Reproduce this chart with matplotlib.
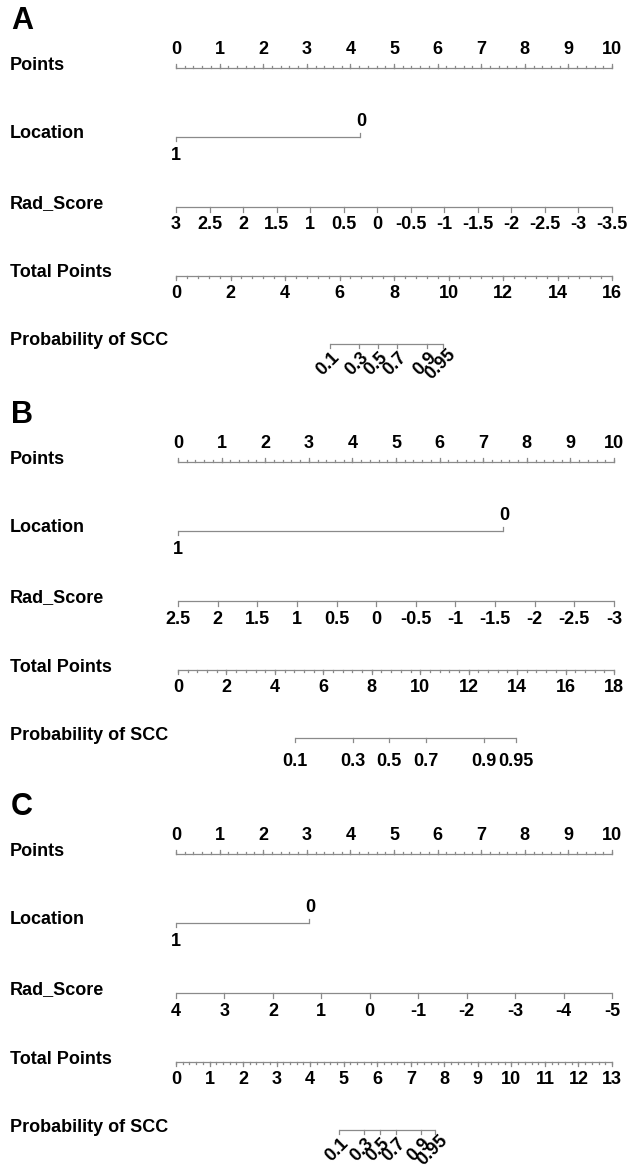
import numpy as np
import matplotlib
matplotlib.use('Agg')
import matplotlib.pyplot as plt
from matplotlib.transforms import blended_transform_factory

plt.rcParams['font.family'] = ['Liberation Sans', 'DejaVu Sans']
plt.rcParams['font.weight'] = 'bold'

# ---- data -----------------------------------------------------------------
PANEL_NAMES = ['A', 'B', 'C']
ROW_LABELS = ['Points', 'Location', 'Rad_Score', 'Total Points', 'Probability of SCC']

POINTS_MAX = 10

# Location: points given to level "1" and level "0"
LOCATION_POINTS_A = [0.0, 4.22]
LOCATION_POINTS_B = [0.0, 7.45]
LOCATION_POINTS_C = [0.0, 3.05]
LOCATION_LEVELS = ['1', '0']

# Rad_Score: value at 0 points, value at 10 points, label step
RAD_RANGE_A = [3.0, -3.5]
RAD_RANGE_B = [2.5, -3.0]
RAD_RANGE_C = [4.0, -5.0]
RAD_STEP_A = 0.5
RAD_STEP_B = 0.5
RAD_STEP_C = 1.0

# Total points: max, labelled step, minor step
TOTAL_A = [16, 2, 0.4]
TOTAL_B = [18, 2, 0.4]
TOTAL_C = [13, 1, 0.2]

# Probability of SCC: labels and where they sit on the total points scale
PROB_LABELS = ['0.1', '0.3', '0.5', '0.7', '0.9', '0.95']
PROB_AT_TOTAL_A = [5.65, 6.72, 7.42, 8.11, 9.20, 9.78]
PROB_AT_TOTAL_B = [4.83, 7.22, 8.72, 10.23, 12.64, 13.96]
PROB_AT_TOTAL_C = [4.85, 5.60, 6.08, 6.56, 7.31, 7.71]
PROB_ROTATE = [True, False, True]

# ---- layout (pixels) ------------------------------------------------------
W, H = 632, 1167
PANEL_TOP = [0, 394, 786]
AXIS_LEFT = [176, 178, 176]
AXIS_RIGHT = [612, 614, 612]
PANEL_H = 394
ROW_Y = [68, 137, 207, 276, 344]
LINE_COLOR = '#8a8a8a'
LW = 0.9
FS = 13

fig = plt.figure(figsize=(W / 100, H / 100), dpi=100)


def hline(ax, x0, x1, y):
    ax.plot([x0, x1], [y, y], color=LINE_COLOR, lw=LW, solid_capstyle='butt', clip_on=False)


def ticks(ax, xs, y, length):
    for x in xs:
        ax.plot([x, x], [y, y + length], color=LINE_COLOR, lw=LW, clip_on=False)


def fmt(v):
    return '%g' % v


def draw_panel(i, loc_points, rad_range, rad_step, total, prob_at, rotate):
    top = PANEL_TOP[i]
    left, right = AXIS_LEFT[i], AXIS_RIGHT[i]
    ax = fig.add_axes([left / W, 1 - (top + PANEL_H) / H, (right - left) / W, PANEL_H / H])
    ax.set_xlim(0, POINTS_MAX)
    ax.set_ylim(PANEL_H, 0)
    ax.axis('off')

    trans = blended_transform_factory(fig.transFigure, ax.transData)
    ax.text(11 / W, 21, PANEL_NAMES[i], transform=trans, fontsize=22, fontweight='bold',
            ha='left', va='center')
    for label, y in zip(ROW_LABELS, ROW_Y):
        ax.text(10 / W, y - 3, label, transform=trans, fontsize=FS, ha='left', va='center')

    # Points
    y = ROW_Y[0]
    hline(ax, 0, POINTS_MAX, y)
    ticks(ax, np.arange(0, POINTS_MAX + 1e-9, 1), y, -4)
    ticks(ax, np.arange(0, POINTS_MAX + 1e-9, 0.2), y, -2)
    for v in range(POINTS_MAX + 1):
        ax.text(v, y - 19, str(v), fontsize=FS, ha='center', va='center')

    # Location
    y = ROW_Y[1]
    hline(ax, loc_points[0], loc_points[1], y)
    ax.plot([loc_points[0]] * 2, [y, y + 4], color=LINE_COLOR, lw=LW, clip_on=False)
    ax.plot([loc_points[1]] * 2, [y, y - 4], color=LINE_COLOR, lw=LW, clip_on=False)
    ax.text(loc_points[0], y + 19, LOCATION_LEVELS[0], fontsize=FS, ha='center', va='center')
    ax.text(loc_points[1] + 0.04, y - 15, LOCATION_LEVELS[1], fontsize=FS, ha='center', va='center')

    # Rad_Score
    y = ROW_Y[2]
    r0, r1 = rad_range
    n = int(round(abs(r0 - r1) / rad_step))
    rads = r0 - np.arange(n + 1) * rad_step
    rad_x = (r0 - rads) / (r0 - r1) * POINTS_MAX
    hline(ax, 0, POINTS_MAX, y)
    ticks(ax, rad_x, y, 5)
    for x, v in zip(rad_x, rads):
        ax.text(x, y + 18, fmt(v), fontsize=FS, ha='center', va='center')

    # Total Points
    y = ROW_Y[3]
    tmax, tstep, tminor = total
    scale = POINTS_MAX / tmax
    hline(ax, 0, POINTS_MAX, y)
    ticks(ax, np.arange(0, tmax + 1e-9, tstep) * scale, y, 4)
    ticks(ax, np.arange(0, tmax + 1e-9, tminor) * scale, y, 2)
    for v in np.arange(0, tmax + 1e-9, tstep):
        ax.text(v * scale, y + 18, fmt(v), fontsize=FS, ha='center', va='center')

    # Probability of SCC
    y = ROW_Y[4]
    px = np.array(prob_at) * scale
    hline(ax, px[0], px[-1], y)
    ticks(ax, px, y, 4)
    for x, lab in zip(px, PROB_LABELS):
        if rotate:
            ax.text(x - 0.04, y + 20, lab, fontsize=FS, ha='center', va='center',
                    rotation=45, rotation_mode='anchor')
        else:
            ax.text(x, y + 23, lab, fontsize=FS, ha='center', va='center')


draw_panel(0, LOCATION_POINTS_A, RAD_RANGE_A, RAD_STEP_A, TOTAL_A, PROB_AT_TOTAL_A, PROB_ROTATE[0])
draw_panel(1, LOCATION_POINTS_B, RAD_RANGE_B, RAD_STEP_B, TOTAL_B, PROB_AT_TOTAL_B, PROB_ROTATE[1])
draw_panel(2, LOCATION_POINTS_C, RAD_RANGE_C, RAD_STEP_C, TOTAL_C, PROB_AT_TOTAL_C, PROB_ROTATE[2])

fig.savefig('out.png', dpi=100)
